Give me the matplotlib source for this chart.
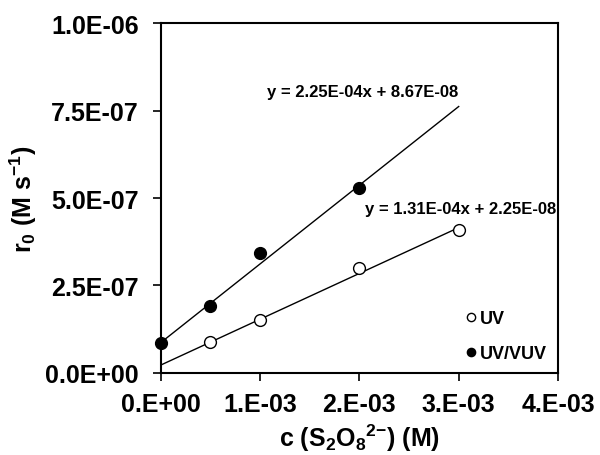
import matplotlib
matplotlib.use("Agg")
import matplotlib.pyplot as plt
import numpy as np

plt.rcParams['font.family'] = ['Liberation Sans', 'DejaVu Sans']
plt.rcParams['font.weight'] = 'bold'
plt.rcParams['mathtext.fontset'] = 'custom'
plt.rcParams['mathtext.rm'] = 'Liberation Sans:bold'
plt.rcParams['mathtext.bf'] = 'Liberation Sans:bold'
plt.rcParams['mathtext.it'] = 'Liberation Sans:bold:italic'
plt.rcParams['mathtext.default'] = 'rm'

# Data
uv_x = [0.0005, 0.001, 0.002, 0.003]
uv_y = [8.9e-8, 1.52e-7, 3.0e-7, 4.09e-7]
vuv_x = [0.0, 0.0005, 0.001, 0.002]
vuv_y = [8.6e-8, 1.9e-7, 3.42e-7, 5.28e-7]

uv_slope, uv_int = 1.31e-4, 2.25e-8
vuv_slope, vuv_int = 2.25e-4, 8.67e-8
fit_x = [0.0, 0.003]

xticks = [0.0, 0.001, 0.002, 0.003, 0.004]
xticklabels = ['0.E+00', '1.E-03', '2.E-03', '3.E-03', '4.E-03']
yticks = [0.0, 2.5e-7, 5.0e-7, 7.5e-7, 1.0e-6]
yticklabels = ['0.0E+00', '2.5E-07', '5.0E-07', '7.5E-07', '1.0E-06']

fig = plt.figure(figsize=(6, 4.56), dpi=100)
ax = fig.add_axes([0.268, 0.18, 0.662, 0.767])

fx = np.array(fit_x)
ax.plot(fx, vuv_slope * fx + vuv_int, color='black', lw=1.0, zorder=2)
ax.plot(fx, uv_slope * fx + uv_int, color='black', lw=1.0, zorder=2)

ax.plot(uv_x, uv_y, 'o', ms=8.5, mfc='white', mec='black', mew=1.0, label='UV', zorder=3, clip_on=False)
ax.plot(vuv_x, vuv_y, 'o', ms=8.5, mfc='black', mec='black', mew=1.0, label='UV/VUV', zorder=3, clip_on=False)

ax.set_xlim(0, 0.004)
ax.set_ylim(0, 1.0e-6)
ax.set_xticks(xticks)
ax.set_xticklabels(xticklabels)
ax.set_yticks(yticks)
ax.set_yticklabels(yticklabels)
ax.tick_params(axis='both', direction='out', length=6, width=1.2, labelsize=18)
ax.tick_params(axis='y', pad=10)
ax.tick_params(axis='x', pad=8)
ax.tick_params(top=False, right=False)
for s in ax.spines.values():
    s.set_linewidth(1.5)

ax.set_ylabel(r'r$_0$ (M s$^{-1}$)', fontsize=18, fontweight='bold', labelpad=4)
ax.set_xlabel(r'c (S$_2$O$_8$$^{2{-}}$) (M)', fontsize=18, fontweight='bold', labelpad=4)

ax.text(0.00107, 8.06e-7, 'y = 2.25E-04x + 8.67E-08', fontsize=12, fontweight='bold', va='center')
ax.text(0.00206, 4.69e-7, 'y = 1.31E-04x + 2.25E-08', fontsize=12, fontweight='bold', va='center')

leg = ax.legend(loc='lower right', bbox_to_anchor=(1.0, 0.0), frameon=False,
                fontsize=13, markerscale=0.7, handlelength=0.6, handletextpad=0.2,
                labelspacing=1.0, borderaxespad=0.2)
for t in leg.get_texts():
    t.set_fontweight('bold')

fig.savefig('out.png', dpi=100)
